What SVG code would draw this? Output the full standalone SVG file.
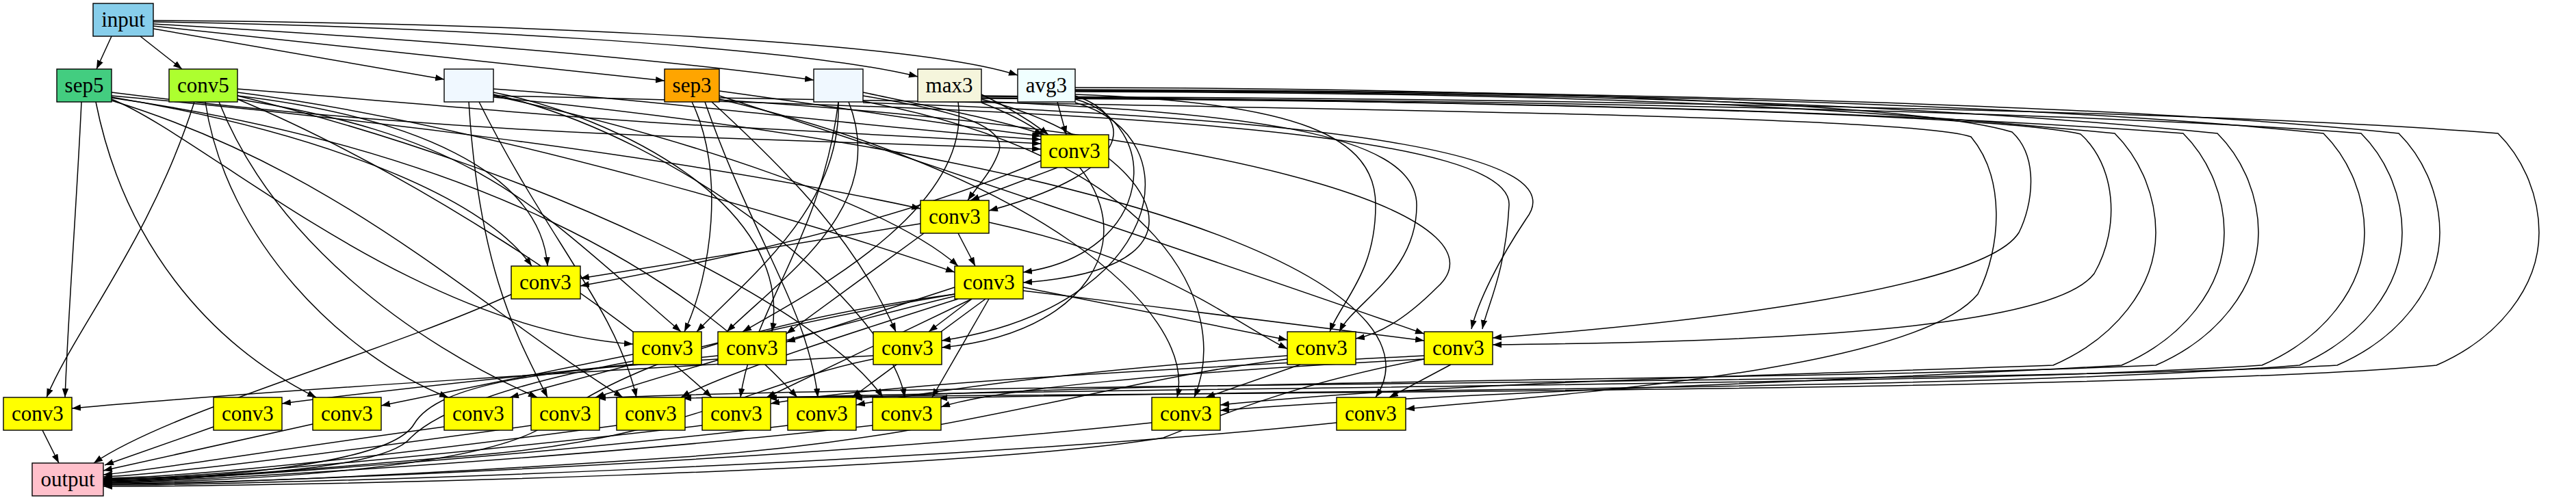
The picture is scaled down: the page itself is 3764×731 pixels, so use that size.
<svg xmlns="http://www.w3.org/2000/svg" width="3764" height="731" viewBox="0 0 3764 731">
<style>
.e{fill:none;stroke:#000;stroke-width:1.5;marker-end:url(#ah)}
.n rect{stroke:#000;stroke-width:1.4}
.n text{font-family:"Liberation Serif","Times New Roman",serif;font-size:31px;text-anchor:middle;fill:#000}
.c3 rect{fill:#ffff00}
</style>
<defs>
<marker id="ah" markerUnits="userSpaceOnUse" markerWidth="14" markerHeight="10" refX="13" refY="4.7" orient="auto">
<polygon points="0,0 13,4.7 0,9.4" fill="#000"/>
</marker>
</defs>
<rect width="3764" height="731" fill="#fff"/>
<g id="edges">
<path class="e" d="M163,53 L141,101"/>
<path class="e" d="M205,53 L266,101"/>
<path class="e" d="M224,42 C380,68 530,95 649,116"/>
<path class="e" d="M224,38 C450,62 760,96 971,118"/>
<path class="e" d="M224,35 C520,52 920,80 1189,117"/>
<path class="e" d="M224,32 C600,38 1150,65 1341,112"/>
<path class="e" d="M224,30 C650,32 1320,55 1487,110"/>
<path class="e" d="M163,135 C400,165 700,190 1000,200 C1200,207 1400,213 1521,218"/>
<path class="e" d="M347,130 C600,150 800,170 1000,182 C1200,192 1400,204 1521,210"/>
<path class="e" d="M721,130 C1000,150 1300,190 1521,204"/>
<path class="e" d="M1051,133 C1250,160 1400,185 1521,199"/>
<path class="e" d="M1261,135 C1380,160 1480,180 1524,197"/>
<path class="e" d="M1434,138 C1480,160 1510,180 1532,197"/>
<path class="e" d="M1545,149 L1558,197"/>
<path class="e" d="M1545,245 L1418,293"/>
<path class="e" d="M163,140 C500,170 1000,230 1345,305"/>
<path class="e" d="M1261,140 C1380,160 1470,180 1460,220 C1450,250 1430,270 1414,293"/>
<path class="e" d="M1571,140 C1660,170 1660,250 1445,308"/>
<path class="e" d="M163,142 C450,190 700,280 777,389"/>
<path class="e" d="M347,140 C600,170 790,250 800,389"/>
<path class="e" d="M1345,327 L848,407"/>
<path class="e" d="M1521,235 C1300,330 1000,390 848,418"/>
<path class="e" d="M1400,341 L1425,389"/>
<path class="e" d="M721,140 C1000,200 1300,300 1400,389"/>
<path class="e" d="M347,135 C700,180 1200,330 1395,398"/>
<path class="e" d="M1571,145 C1700,180 1690,370 1495,398"/>
<path class="e" d="M1434,145 C1660,200 1820,390 1495,413"/>
<path class="e" d="M163,145 C300,200 600,480 925,503"/>
<path class="e" d="M347,145 C700,200 780,300 995,485"/>
<path class="e" d="M1011,149 C1060,250 1040,400 1000,485"/>
<path class="e" d="M1225,149 C1230,300 1100,400 1018,485"/>
<path class="e" d="M721,135 C900,170 1160,300 1128,485"/>
<path class="e" d="M1240,149 C1300,300 1150,400 1062,485"/>
<path class="e" d="M1350,341 L1149,488"/>
<path class="e" d="M1395,420 L1149,500"/>
<path class="e" d="M1400,149 C1420,300 1200,420 1085,485"/>
<path class="e" d="M1040,149 C1150,250 1250,350 1309,485"/>
<path class="e" d="M1420,437 L1357,485"/>
<path class="e" d="M1571,150 C1750,200 1700,450 1376,498"/>
<path class="e" d="M1434,150 C1700,250 1660,480 1376,508"/>
<path class="e" d="M1495,420 L1881,497"/>
<path class="e" d="M1445,325 C1700,380 1800,470 1881,510"/>
<path class="e" d="M1571,138 C1900,150 2010,200 2010,300 C2010,400 1960,440 1943,485"/>
<path class="e" d="M1434,148 C1800,165 2070,190 2070,300 C2070,400 1980,440 1957,485"/>
<path class="e" d="M1051,146 C1900,200 2200,330 2100,420 C2050,470 2010,490 1981,495"/>
<path class="e" d="M1051,140 C1300,220 1800,390 2081,488"/>
<path class="e" d="M1495,425 C1700,450 1950,480 2081,498"/>
<path class="e" d="M721,140 C1700,160 2210,200 2205,300 C2200,400 2172,450 2166,481"/>
<path class="e" d="M1261,150 C2000,175 2300,230 2230,320 C2190,380 2160,440 2150,481"/>
<path class="e" d="M1571,128 C2200,130 2800,150 2940,193 C2980,230 2970,300 2950,340 C2900,420 2500,470 2181,494"/>
<path class="e" d="M1434,140 C2200,150 2900,165 3040,196 C3090,240 3100,330 3060,400 C3000,480 2600,500 2181,504"/>
<path class="e" d="M119,149 C112,300 100,450 95,581"/>
<path class="e" d="M284,149 C220,350 110,480 68,581"/>
<path class="e" d="M1276,520 C900,540 400,570 105,597"/>
<path class="e" d="M1049,520 C800,545 550,572 412,590"/>
<path class="e" d="M140,149 C180,350 300,500 462,581"/>
<path class="e" d="M925,518 L557,593"/>
<path class="e" d="M300,149 C330,350 500,520 655,581"/>
<path class="e" d="M1395,430 C1100,480 900,540 745,581"/>
<path class="e" d="M320,149 C400,350 600,500 785,581"/>
<path class="e" d="M685,149 C700,400 760,500 800,581"/>
<path class="e" d="M1395,433 C1200,480 1000,540 870,581"/>
<path class="e" d="M163,147 C500,250 700,450 910,581"/>
<path class="e" d="M700,149 C800,350 900,450 930,581"/>
<path class="e" d="M1400,437 C1200,500 1050,550 995,581"/>
<path class="e" d="M347,145 C600,250 900,450 1040,581"/>
<path class="e" d="M1225,149 C1200,350 1100,450 1082,581"/>
<path class="e" d="M1420,437 L1120,581"/>
<path class="e" d="M2081,520 C1700,540 1300,560 1126,590"/>
<path class="e" d="M163,143 C700,220 1000,400 1165,581"/>
<path class="e" d="M1030,149 C1100,350 1180,450 1195,581"/>
<path class="e" d="M1440,437 L1245,581"/>
<path class="e" d="M1881,520 C1600,540 1400,565 1251,592"/>
<path class="e" d="M347,140 C800,250 1200,450 1290,581"/>
<path class="e" d="M721,138 C1000,200 1300,450 1322,581"/>
<path class="e" d="M1445,437 L1362,581"/>
<path class="e" d="M2081,525 C1700,545 1450,570 1375,595"/>
<path class="e" d="M1051,145 C1500,250 1750,450 1720,581"/>
<path class="e" d="M1261,148 C1700,230 1800,450 1745,581"/>
<path class="e" d="M1900,533 L1762,581"/>
<path class="e" d="M721,142 C1800,250 2100,450 2010,581"/>
<path class="e" d="M2120,533 L2030,581"/>
<path class="e" d="M1571,131 C2271,133 3065,149 3505,195 C3545,235 3565,290 3565,340 C3565,420 3505,495 3415,534 C2965,560 1372,560 872,582"/>
<path class="e" d="M1434,141 C2134,143 3210,159 3650,195 C3690,235 3710,290 3710,340 C3710,420 3650,495 3560,534 C3110,575 1497,575 997,582"/>
<path class="e" d="M1571,132 C2271,134 2955,150 3395,195 C3435,235 3455,290 3455,340 C3455,420 3395,495 3305,534 C2855,565 1622,565 1122,582"/>
<path class="e" d="M1571,133 C2271,135 2800,151 3240,195 C3280,235 3300,290 3300,340 C3300,420 3240,495 3150,534 C2700,555 1747,555 1247,582"/>
<path class="e" d="M1434,143 C2134,145 3010,161 3450,195 C3490,235 3510,290 3510,340 C3510,420 3450,495 3360,534 C2910,570 1871,570 1371,582"/>
<path class="e" d="M1571,134 C2271,136 2650,152 3090,195 C3130,235 3150,290 3150,340 C3150,420 3090,495 3000,534 C2550,550 2100,560 1783,592"/>
<path class="e" d="M1434,144 C2134,146 2750,162 3190,195 C3230,235 3250,290 3250,340 C3250,420 3190,495 3100,534 C2650,560 2100,575 1783,600"/>
<path class="e" d="M1051,143 C2000,160 2800,170 2880,200 C2930,260 2925,360 2890,430 C2800,540 2300,575 2054,598"/>
<path class="e" d="M62,629 L86,677"/>
<path class="e" d="M748,430 C550,520 250,600 137,677"/>
<path class="e" d="M312,624 L153,680"/>
<path class="e" d="M457,620 L151,688"/>
<path class="e" d="M649,624 C420,655 220,688 151,694"/>
<path class="e" d="M776,622 C500,660 250,693 151,697"/>
<path class="e" d="M901,622 C600,662 300,697 151,699"/>
<path class="e" d="M1026,622 C700,660 300,699 151,701"/>
<path class="e" d="M1151,622 C800,664 300,702 151,703"/>
<path class="e" d="M1275,622 C900,665 300,704 151,705"/>
<path class="e" d="M1683,618 C1200,670 400,707 151,707"/>
<path class="e" d="M1953,618 C1400,676 400,710 151,709"/>
<path class="e" d="M925,528 C750,560 640,600 600,640 C560,690 300,698 151,700"/>
<path class="e" d="M1049,525 C800,540 640,560 605,620 C570,680 300,700 151,702"/>
<path class="e" d="M1276,525 C1100,560 1000,640 700,665 C400,690 250,704 151,704"/>
<path class="e" d="M1881,525 C1600,560 1400,640 1000,668 C600,695 300,708 151,708"/>
<path class="e" d="M2081,525 C1900,560 1800,600 1700,640 C1400,690 400,712 151,711"/>
<path class="e" d="M1395,430 C1100,470 900,540 800,620 C700,690 300,705 151,706"/>
</g>
<g id="input" class="n"><rect x="136" y="5" width="88" height="48" fill="#87ceeb"/><text x="180" y="39">input</text></g>
<g id="sep5" class="n"><rect x="83" y="101" width="80" height="48" fill="#43cd80"/><text x="123" y="135">sep5</text></g>
<g id="conv5" class="n"><rect x="247" y="101" width="100" height="48" fill="#adff2f"/><text x="297" y="135">conv5</text></g>
<g id="id1" class="n"><rect x="649" y="101" width="72" height="48" fill="#f0f8ff"/></g>
<g id="sep3" class="n"><rect x="971" y="101" width="80" height="48" fill="#ffa500"/><text x="1011" y="135">sep3</text></g>
<g id="id2" class="n"><rect x="1189" y="101" width="72" height="48" fill="#f0f8ff"/></g>
<g id="max3" class="n"><rect x="1341" y="101" width="93" height="48" fill="#f5f5dc"/><text x="1387" y="135">max3</text></g>
<g id="avg3" class="n"><rect x="1487" y="101" width="84" height="48" fill="#f0ffff"/><text x="1529" y="135">avg3</text></g>
<g id="c3a" class="n c3"><rect x="1521" y="197" width="99" height="48"/><text x="1570" y="231">conv3</text></g>
<g id="c3b" class="n c3"><rect x="1345" y="293" width="100" height="48"/><text x="1395" y="327">conv3</text></g>
<g id="c4a" class="n c3"><rect x="747" y="389" width="101" height="48"/><text x="797" y="423">conv3</text></g>
<g id="c4b" class="n c3"><rect x="1395" y="389" width="100" height="48"/><text x="1445" y="423">conv3</text></g>
<g id="d1" class="n c3"><rect x="925" y="485" width="100" height="48"/><text x="975" y="519">conv3</text></g>
<g id="d2" class="n c3"><rect x="1049" y="485" width="100" height="48"/><text x="1099" y="519">conv3</text></g>
<g id="d3" class="n c3"><rect x="1276" y="485" width="100" height="48"/><text x="1326" y="519">conv3</text></g>
<g id="d4" class="n c3"><rect x="1881" y="485" width="100" height="48"/><text x="1931" y="519">conv3</text></g>
<g id="d5" class="n c3"><rect x="2081" y="485" width="100" height="48"/><text x="2131" y="519">conv3</text></g>
<g id="e1" class="n c3"><rect x="5" y="581" width="100" height="48"/><text x="55" y="615">conv3</text></g>
<g id="e2" class="n c3"><rect x="312" y="581" width="100" height="48"/><text x="362" y="615">conv3</text></g>
<g id="e3" class="n c3"><rect x="457" y="581" width="100" height="48"/><text x="507" y="615">conv3</text></g>
<g id="e4" class="n c3"><rect x="649" y="581" width="100" height="48"/><text x="699" y="615">conv3</text></g>
<g id="e5" class="n c3"><rect x="776" y="581" width="100" height="48"/><text x="826" y="615">conv3</text></g>
<g id="e6" class="n c3"><rect x="901" y="581" width="100" height="48"/><text x="951" y="615">conv3</text></g>
<g id="e7" class="n c3"><rect x="1026" y="581" width="100" height="48"/><text x="1076" y="615">conv3</text></g>
<g id="e8" class="n c3"><rect x="1151" y="581" width="100" height="48"/><text x="1201" y="615">conv3</text></g>
<g id="e9" class="n c3"><rect x="1275" y="581" width="100" height="48"/><text x="1325" y="615">conv3</text></g>
<g id="e10" class="n c3"><rect x="1683" y="581" width="100" height="48"/><text x="1733" y="615">conv3</text></g>
<g id="e11" class="n c3"><rect x="1953" y="581" width="101" height="48"/><text x="2003" y="615">conv3</text></g>
<g id="output" class="n"><rect x="47" y="677" width="104" height="48" fill="#ffc0cb"/><text x="99" y="711">output</text></g>
</svg>
